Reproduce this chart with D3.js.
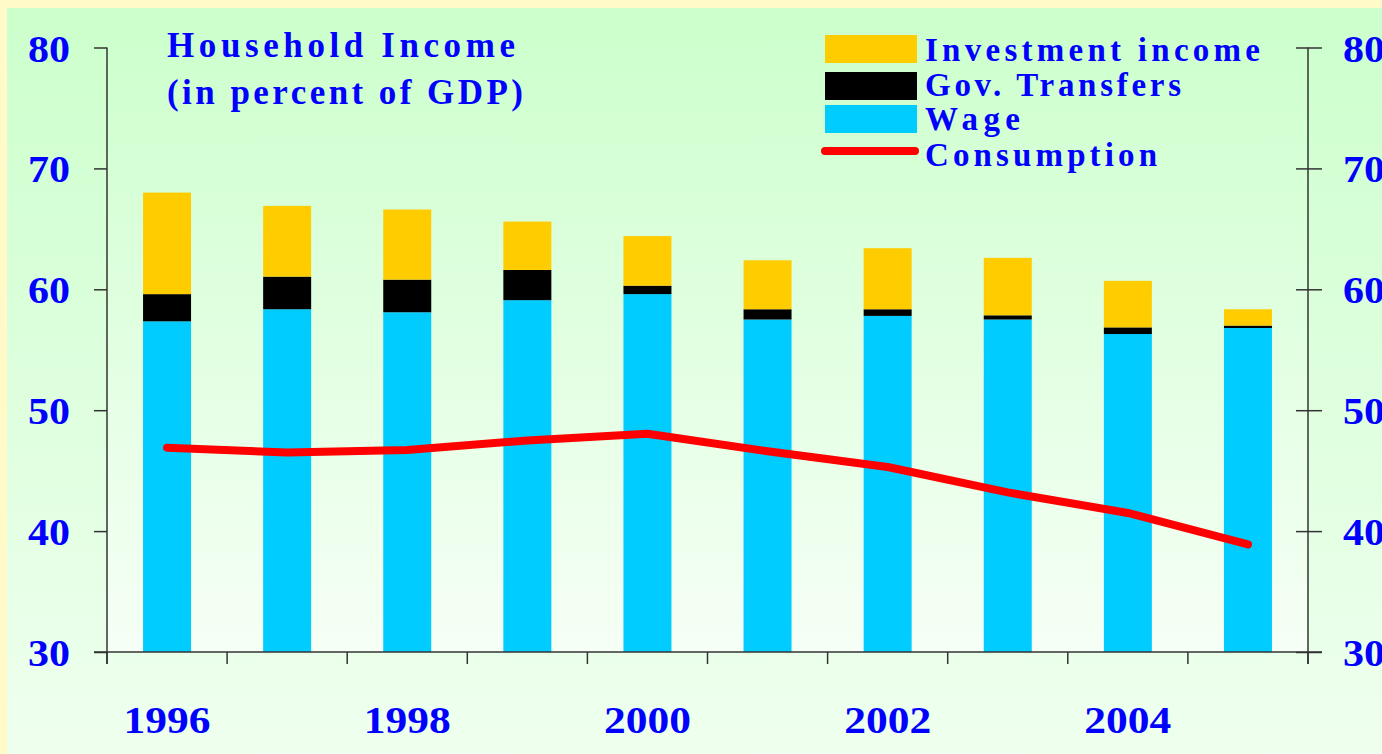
<!DOCTYPE html>
<html>
<head>
<meta charset="utf-8">
<script src="https://cdn.jsdelivr.net/npm/d3@7"></script>
<style>
  html, body { margin: 0; padding: 0; background: #FFFAC8; }
  svg { display: block; }
  text { font-family: "Liberation Serif", "Times New Roman", serif; font-weight: bold; fill: #0000FF; }
</style>
</head>
<body>
<svg id="chart" width="1382" height="754"></svg>
<script>
// ---- Data ----
const years = ["1996", "1997", "1998", "1999", "2000", "2001", "2002", "2003", "2004", "2005"];
const yearLabels = ["1996", "", "1998", "", "2000", "", "2002", "", "2004", ""];
const wage = [57.35, 58.35, 58.1, 59.1, 59.6, 57.5, 57.8, 57.5, 56.3, 56.8];
const govTransfers = [2.25, 2.7, 2.7, 2.5, 0.7, 0.85, 0.55, 0.35, 0.55, 0.2];
const investmentIncome = [8.4, 5.85, 5.8, 4.0, 4.1, 4.05, 5.05, 4.75, 3.85, 1.35];
const consumption = [46.9, 46.5, 46.7, 47.5, 48.05, 46.6, 45.3, 43.2, 41.5, 38.9];
const yTicks = [30, 40, 50, 60, 70, 80];
const seriesNames = ["Wage", "Gov. Transfers", "Investment income"];
const seriesColors = ["#00CCFF", "#000000", "#FFCC00"];
const titleLines = ["Household Income", "(in percent of GDP)"];

// ---- Layout ----
const W = 1382, H = 754;
const plot = { left: 107, right: 1308, top: 47.5, bottom: 652 };
const svg = d3.select("#chart");

// Backgrounds
const defs = svg.append("defs");
const g1 = defs.append("linearGradient").attr("id", "outerBg").attr("x1", 0).attr("y1", 0).attr("x2", 0).attr("y2", 1);
g1.append("stop").attr("offset", "0%").attr("stop-color", "#CCFFCC");
g1.append("stop").attr("offset", "100%").attr("stop-color", "#EFFFEF");
const g2 = defs.append("linearGradient").attr("id", "plotBg").attr("x1", 0).attr("y1", 0).attr("x2", 0).attr("y2", 1);
g2.append("stop").attr("offset", "0%").attr("stop-color", "#CEFFCE");
g2.append("stop").attr("offset", "100%").attr("stop-color", "#F6FFF6");

svg.append("rect").attr("x", 0).attr("y", 0).attr("width", W).attr("height", H).attr("fill", "#FFFAC8");
svg.append("rect").attr("x", 7).attr("y", 8).attr("width", W - 7).attr("height", H - 8).attr("fill", "url(#outerBg)");
svg.append("rect").attr("x", plot.left).attr("y", plot.top).attr("width", plot.right - plot.left)
  .attr("height", plot.bottom - plot.top).attr("fill", "url(#plotBg)");

// Scales
const x = d3.scaleBand().domain(years).range([plot.left, plot.right]).paddingInner(0).paddingOuter(0);
const y = d3.scaleLinear().domain([30, 80]).range([plot.bottom, plot.top]);
const barW = 48;

// Stacked bars
const table = years.map((yr, i) => ({ year: yr, "Wage": wage[i], "Gov. Transfers": govTransfers[i], "Investment income": investmentIncome[i] }));
const stack = d3.stack().keys(seriesNames).value((d, k) => d[k]);
const stacked = stack(table);
svg.append("g").selectAll("g").data(stacked).join("g")
  .attr("fill", (d, i) => seriesColors[i])
  .selectAll("rect").data(d => d).join("rect")
  .attr("x", d => x(d.data.year) + x.bandwidth() / 2 - barW / 2)
  .attr("width", barW)
  .attr("y", d => y(d[1]))
  .attr("height", d => y(Math.max(d[0], 30)) - y(d[1]));

// Consumption line
const line = d3.line().x((d, i) => x(years[i]) + x.bandwidth() / 2).y(d => y(d));
svg.append("path").datum(consumption).attr("d", line)
  .attr("fill", "none").attr("stroke", "#FF0000").attr("stroke-width", 8)
  .attr("stroke-linejoin", "round").attr("stroke-linecap", "round");

// Axes
const axisColor = "#333333";
const leftAxis = svg.append("g").attr("transform", `translate(${plot.left},0)`)
  .call(d3.axisLeft(y).tickValues(yTicks).tickSize(13).tickFormat(""));
const rightAxis = svg.append("g").attr("transform", `translate(${plot.right},0)`)
  .call(d3.axisRight(y).tickValues(yTicks).tickSize(14).tickFormat(""));
rightAxis.selectAll(".tick line").attr("x1", -12);
const bottomAxis = svg.append("g").attr("transform", `translate(0,${plot.bottom})`)
  .call(d3.axisBottom(x).tickSize(0).tickFormat(""));
[leftAxis, rightAxis, bottomAxis].forEach(a => {
  a.selectAll("path.domain").remove();
  a.selectAll("line").attr("stroke", axisColor).attr("stroke-width", 1.5);
});
svg.append("line").attr("x1", plot.left).attr("x2", plot.left).attr("y1", y(80)).attr("y2", plot.bottom + 12)
  .attr("stroke", axisColor).attr("stroke-width", 1.5);
svg.append("line").attr("x1", plot.right).attr("x2", plot.right).attr("y1", y(80)).attr("y2", plot.bottom + 12)
  .attr("stroke", axisColor).attr("stroke-width", 1.5);
svg.append("line").attr("x1", plot.left - 13).attr("x2", plot.right + 14).attr("y1", plot.bottom).attr("y2", plot.bottom)
  .attr("stroke", axisColor).attr("stroke-width", 1.5);
const boundaries = years.map(yr => x(yr)).concat([plot.right]);
svg.append("g").selectAll("line").data(boundaries).join("line")
  .attr("x1", d => d).attr("x2", d => d).attr("y1", plot.bottom).attr("y2", plot.bottom + 12)
  .attr("stroke", axisColor).attr("stroke-width", 1.5);

// Y tick labels
svg.append("g").selectAll("text").data(yTicks).join("text")
  .attr("x", 70).attr("y", d => y(d) + 14).attr("text-anchor", "end")
  .attr("font-size", 38).attr("textLength", 42).attr("lengthAdjust", "spacingAndGlyphs")
  .text(d => d);
svg.append("g").selectAll("text").data(yTicks).join("text")
  .attr("x", 1343).attr("y", d => y(d) + 14).attr("text-anchor", "start")
  .attr("font-size", 38).attr("textLength", 42).attr("lengthAdjust", "spacingAndGlyphs")
  .text(d => d);

// X labels
svg.append("g").selectAll("text").data(years.filter((d, i) => yearLabels[i] !== "")).join("text")
  .attr("x", d => x(d) + x.bandwidth() / 2).attr("y", 733).attr("text-anchor", "middle")
  .attr("font-size", 38).attr("textLength", 87).attr("lengthAdjust", "spacingAndGlyphs")
  .text(d => yearLabels[years.indexOf(d)]);

// Title
const titleLen = [348, 356];
svg.append("g").selectAll("text").data(titleLines).join("text")
  .attr("x", 167).attr("y", (d, i) => 57 + i * 47)
  .attr("font-size", 35).attr("textLength", (d, i) => titleLen[i]).attr("lengthAdjust", "spacing")
  .text(d => d);

// Legend
const legendItems = [
  { name: "Investment income", color: "#FFCC00", type: "rect", top: 35, len: 335, base: 61 },
  { name: "Gov. Transfers", color: "#000000", type: "rect", top: 72, len: 256, base: 96 },
  { name: "Wage", color: "#00CCFF", type: "rect", top: 105, len: 95, base: 130 },
  { name: "Consumption", color: "#FF0000", type: "line", top: 151, len: 232, base: 166 }
];
const lg = svg.append("g");
legendItems.forEach(it => {
  if (it.type === "rect") {
    lg.append("rect").attr("x", 825).attr("y", it.top).attr("width", 92).attr("height", 28).attr("fill", it.color);
  } else {
    lg.append("line").attr("x1", 825).attr("x2", 915).attr("y1", it.top).attr("y2", it.top)
      .attr("stroke", it.color).attr("stroke-width", 8).attr("stroke-linecap", "round");
  }
  lg.append("text").attr("x", 925).attr("y", it.base).attr("font-size", 33)
    .attr("textLength", it.len).attr("lengthAdjust", "spacing").text(it.name);
});
</script>
</body>
</html>
